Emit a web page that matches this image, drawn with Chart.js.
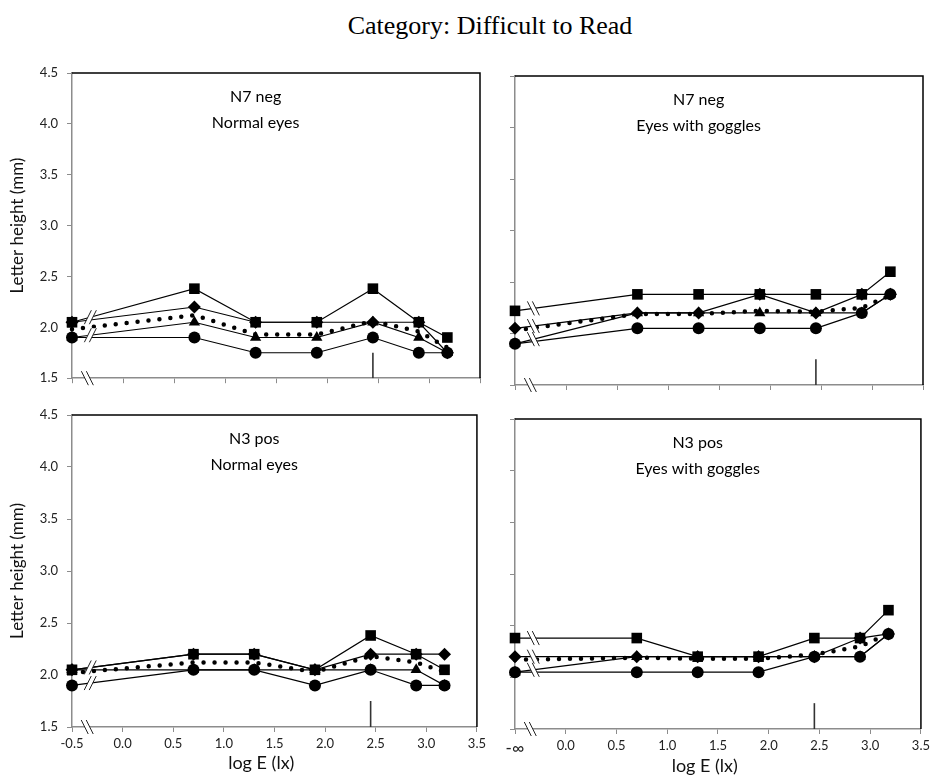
<!DOCTYPE html>
<html>
<head>
<meta charset="utf-8">
<script src="https://cdn.jsdelivr.net/npm/chart.js@4.4.1/dist/chart.umd.min.js"></script>
<style>
    body { margin: 0; background: #fff; }
    .wrap { position: relative; width: 934px; height: 776px; overflow: hidden; }
    .title { position: absolute; left: 290px; top: 11px; width: 400px; text-align: center;
             font-family: "Liberation Serif", "DejaVu Serif", serif; font-size: 26px; color: #000; }
    canvas { position: absolute; }
</style>
</head>
<body>
<div class="wrap">
    <div class="title">Category: Difficult to Read</div>
    <canvas id="chartTL" width="490" height="350" style="left:0;top:45px"></canvas>
    <canvas id="chartTR" width="444" height="350" style="left:490px;top:45px"></canvas>
    <canvas id="chartBL" width="490" height="381" style="left:0;top:395px"></canvas>
    <canvas id="chartBR" width="444" height="381" style="left:490px;top:395px"></canvas>
</div>
<script>
// x positions (log E); the first one stands for -infinity
const logE = [-0.5, 0.7, 1.3, 1.9, 2.45, 2.9, 3.18];
const yTicks = [1.5, 2.0, 2.5, 3.0, 3.5, 4.0, 4.5];
const xTicks = [-0.5, 0.0, 0.5, 1.0, 1.5, 2.0, 2.5, 3.0, 3.5];

// N7 neg, normal eyes
const n7NormSquare   = [2.05, 2.38, 2.05, 2.05, 2.38, 2.05, 1.90];
const n7NormDiamond  = [2.05, 2.20, 2.05, 2.05, 2.05, 2.05, 1.75];
const n7NormTriangle = [1.90, 2.05, 1.90, 1.90, 2.05, 1.90, 1.75];
const n7NormCircle   = [1.90, 1.90, 1.75, 1.75, 1.90, 1.75, 1.75];
const n7NormMean     = [1.98, 2.12, 1.93, 1.93, 2.06, 1.96, 1.80];

// N7 neg, eyes with goggles
const n7GogSquare   = [2.22, 2.38, 2.38, 2.38, 2.38, 2.38, 2.60];
const n7GogDiamond  = [2.05, 2.20, 2.20, 2.38, 2.20, 2.38, 2.38];
const n7GogTriangle = [1.90, 2.20, 2.20, 2.20, 2.20, 2.20, 2.38];
const n7GogCircle   = [1.90, 2.05, 2.05, 2.05, 2.05, 2.20, 2.38];
const n7GogMean     = [2.03, 2.19, 2.19, 2.22, 2.21, 2.25, 2.37];

// N3 pos, normal eyes
const n3NormSquare   = [2.05, 2.20, 2.20, 2.05, 2.38, 2.20, 2.05];
const n3NormDiamond  = [2.05, 2.20, 2.20, 2.05, 2.20, 2.20, 2.20];
const n3NormTriangle = [2.05, 2.05, 2.05, 2.05, 2.05, 2.05, 1.90];
const n3NormCircle   = [1.90, 2.05, 2.05, 1.90, 2.05, 1.90, 1.90];
const n3NormMean     = [2.02, 2.12, 2.12, 2.03, 2.18, 2.12, 2.03];

// N3 pos, eyes with goggles
const n3GogSquare   = [2.38, 2.38, 2.20, 2.20, 2.38, 2.38, 2.65];
const n3GogDiamond  = [2.20, 2.20, 2.20, 2.20, 2.20, 2.38, 2.42];
const n3GogTriangle = [2.05, 2.20, 2.20, 2.20, 2.20, 2.20, 2.42];
const n3GogCircle   = [2.05, 2.05, 2.05, 2.05, 2.20, 2.20, 2.42];
const n3GogMean     = [2.17, 2.19, 2.18, 2.18, 2.22, 2.30, 2.42];

// small vertical marker and axis break
const markerX = [2.45, 2.45];
const markerY = [1.5, 1.75];
const breakAt = -0.32;

Chart.defaults.font.family = 'Lato, "Open Sans", sans-serif';
Chart.defaults.color = '#222';

function toPoints(xs, ys) {
    return xs.map(function(x, i) { return { x: x, y: ys[i] }; });
}

function series(values, style, radius) {
    return {
        data: toPoints(logE, values),
        showLine: true,
        borderColor: '#000',
        backgroundColor: '#000',
        borderWidth: 1.2,
        pointStyle: style,
        pointRadius: radius,
        pointBorderWidth: 0,
        clip: false,
        order: 2
    };
}

// draw a "//" break mark at (px, py)
function drawBreak(ctx, px, py, lean) {
    const h = 7, w = 3.5, gap = 5;
    ctx.fillStyle = '#fff';
    ctx.beginPath();
    ctx.moveTo(px - gap / 2 - w * lean, py + h);
    ctx.lineTo(px - gap / 2 + w * lean, py - h);
    ctx.lineTo(px + gap / 2 + w * lean, py - h);
    ctx.lineTo(px + gap / 2 - w * lean, py + h);
    ctx.closePath();
    ctx.fill();
    ctx.strokeStyle = '#222';
    ctx.lineWidth = 1;
    [-gap / 2, gap / 2].forEach(function(dx) {
        ctx.beginPath();
        ctx.moveTo(px + dx - w * lean, py + h);
        ctx.lineTo(px + dx + w * lean, py - h);
        ctx.stroke();
    });
}

const panelDecor = {
    id: 'panelDecor',
    afterDraw(chart, args, opts) {
        const ctx = chart.ctx;
        const a = chart.chartArea;
        const xs = chart.scales.x, ys = chart.scales.y;
        ctx.save();

        // black frame on top and right
        ctx.strokeStyle = '#000';
        ctx.lineWidth = 1.5;
        ctx.beginPath();
        ctx.moveTo(a.left, a.top);
        ctx.lineTo(a.right, a.top);
        ctx.lineTo(a.right, a.bottom);
        ctx.stroke();

        // break marks on each line and on the x axis
        const bx = xs.getPixelForValue(breakAt);
        const t = (breakAt - logE[0]) / (logE[1] - logE[0]);
        const done = [];
        opts.lines.forEach(function(vals) {
            const py = ys.getPixelForValue(vals[0] + (vals[1] - vals[0]) * t);
            if (done.some(function(d) { return Math.abs(d - py) < 4; })) return;
            done.push(py);
            drawBreak(ctx, bx, py, opts.lean);
        });
        drawBreak(ctx, bx - 3, ys.getPixelForValue(1.5), -1);

        // panel labels
        ctx.fillStyle = '#000';
        ctx.font = '16px Lato, "Open Sans", sans-serif';
        ctx.textAlign = 'center';
        ctx.textBaseline = 'middle';
        const tx = xs.getPixelForValue(1.3);
        ctx.fillText(opts.text[0], tx, a.top + 24);
        ctx.fillText(opts.text[1], tx, a.top + 50);

        // x axis title, a little left of centre as in the source figure
        if (opts.xTitleY) {
            ctx.fillStyle = '#111';
            ctx.font = '18px Lato, "Open Sans", sans-serif';
            ctx.fillText('log E (lx)', xs.getPixelForValue(1.37), opts.xTitleY);
        }
        ctx.restore();
    }
};

function makePanel(id, p) {
    const ctx = document.getElementById(id).getContext('2d');
    const lines = [p.square, p.diamond, p.triangle, p.circle];
    return new Chart(ctx, {
        type: 'scatter',
        data: {
            datasets: [
                {
                    data: toPoints(logE, p.mean),
                    showLine: true,
                    borderColor: '#000',
                    borderWidth: 4.5,
                    borderCapStyle: 'round',
                    borderDash: [0, 11],
                    pointRadius: 0,
                    clip: false,
                    order: 1
                },
                series(p.square, 'rect', 7.5),
                series(p.diamond, 'rectRot', 6.5),
                series(p.triangle, 'triangle', 6.5),
                series(p.circle, 'circle', 6),
                {
                    data: toPoints(markerX, markerY),
                    showLine: true,
                    borderColor: '#333',
                    borderWidth: 1.6,
                    pointRadius: 0,
                    order: 3
                }
            ]
        },
        options: {
            responsive: false,
            animation: false,
            events: [],
            layout: { padding: { top: p.padTop, right: p.padRight, left: 0, bottom: 0 } },
            plugins: {
                legend: { display: false },
                tooltip: { enabled: false },
                panelDecor: { lines: lines, lean: p.lean, text: p.text, xTitleY: p.xTitleY }
            },
            scales: {
                x: {
                    type: 'linear',
                    min: xTicks[0],
                    max: xTicks[xTicks.length - 1],
                    afterBuildTicks: function(scale) {
                        scale.ticks = xTicks.map(function(v) { return { value: v }; });
                    },
                    afterFit: function(scale) { scale.height = p.xHeight; },
                    grid: { drawOnChartArea: false, drawTicks: true, tickLength: 5, color: '#8c8c8c' },
                    border: { color: '#8c8c8c', width: 1.5 },
                    ticks: {
                        display: p.xLabels,
                        padding: 4,
                        maxRotation: 0,
                        // the "-infinity" label is set a little larger
                        font: function(c) {
                            return { size: (p.negInf && c.tick && c.tick.value === -0.5) ? 17 : 13 };
                        },
                        color: '#222',
                        callback: function(v) {
                            if (p.negInf && v === -0.5) return '-\u221E';
                            return v.toFixed(1);
                        }
                    }
                },
                y: {
                    min: yTicks[0],
                    max: yTicks[yTicks.length - 1],
                    afterBuildTicks: function(scale) {
                        scale.ticks = yTicks.map(function(v) { return { value: v }; });
                    },
                    afterFit: function(scale) { scale.width = p.yWidth; },
                    grid: { drawOnChartArea: false, drawTicks: true, tickLength: 5, color: '#8c8c8c' },
                    border: { color: '#8c8c8c', width: 1.5 },
                    ticks: {
                        display: p.yLabels,
                        padding: 9,
                        font: { size: 13 },
                        color: '#222',
                        callback: function(v) { return v.toFixed(1); }
                    },
                    title: {
                        display: p.yLabels,
                        text: 'Letter height (mm)',
                        font: { size: 17 },
                        color: '#111',
                        padding: { top: 7, bottom: 0 }
                    }
                }
            }
        },
        plugins: [panelDecor]
    });
}

const chartTL = makePanel('chartTL', {
    square: n7NormSquare, diamond: n7NormDiamond, triangle: n7NormTriangle,
    circle: n7NormCircle, mean: n7NormMean, text: ['N7 neg', 'Normal eyes'],
    padTop: 28, padRight: 10, yWidth: 72, xHeight: 12,
    xLabels: false, yLabels: true, negInf: false, lean: 1, xTitleY: 0
});

const chartTR = makePanel('chartTR', {
    square: n7GogSquare, diamond: n7GogDiamond, triangle: n7GogTriangle,
    circle: n7GogCircle, mean: n7GogMean, text: ['N7 neg', 'Eyes with goggles'],
    padTop: 31, padRight: 11, yWidth: 25, xHeight: 10,
    xLabels: false, yLabels: false, negInf: false, lean: -1, xTitleY: 0
});

const chartBL = makePanel('chartBL', {
    square: n3NormSquare, diamond: n3NormDiamond, triangle: n3NormTriangle,
    circle: n3NormCircle, mean: n3NormMean, text: ['N3 pos', 'Normal eyes'],
    padTop: 20, padRight: 10, yWidth: 72, xHeight: 49,
    xLabels: true, yLabels: true, negInf: false, lean: 1, xTitleY: 368
});

const chartBR = makePanel('chartBR', {
    square: n3GogSquare, diamond: n3GogDiamond, triangle: n3GogTriangle,
    circle: n3GogCircle, mean: n3GogMean, text: ['N3 pos', 'Eyes with goggles'],
    padTop: 24, padRight: 11, yWidth: 25, xHeight: 47,
    xLabels: true, yLabels: false, negInf: true, lean: -1, xTitleY: 371
});
</script>
</body>
</html>
